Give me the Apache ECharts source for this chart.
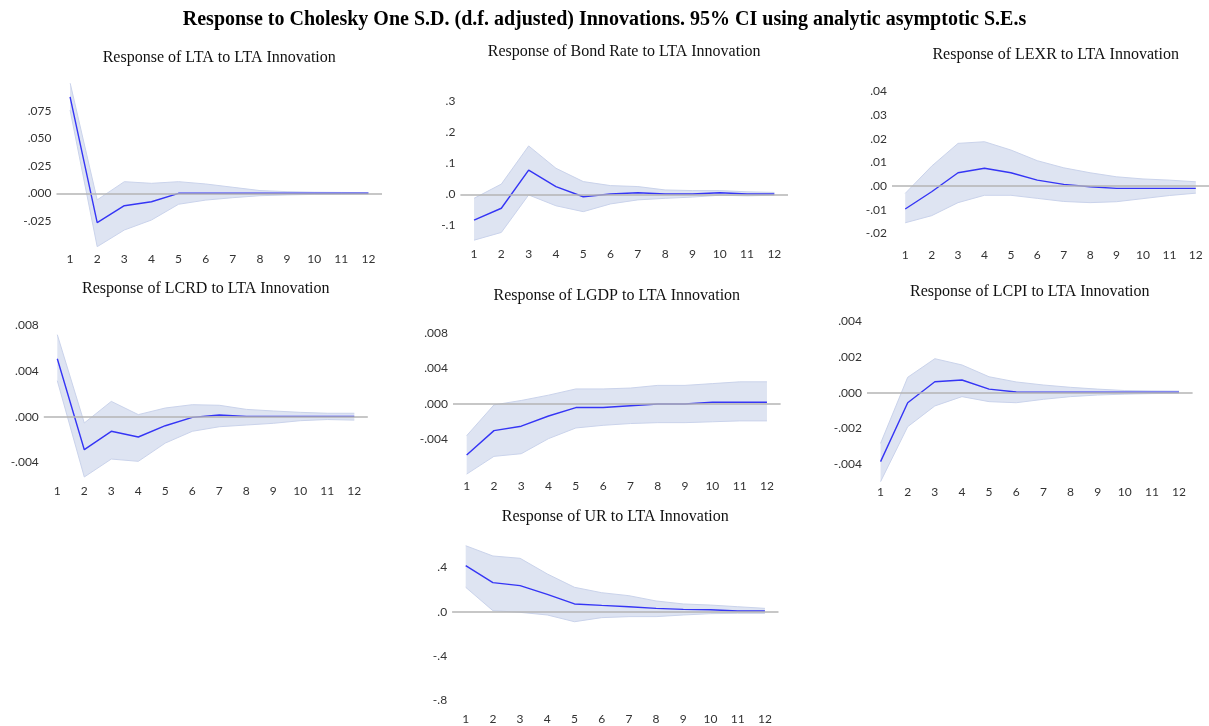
<!DOCTYPE html>
<html>
<head>
<meta charset="utf-8">
<script src="https://cdn.jsdelivr.net/npm/echarts@6/dist/echarts.min.js"></script>
<style>
  html, body { margin: 0; padding: 0; background: #fff; }
  #chart { width: 1209px; height: 726px; }
</style>
</head>
<body>
<div id="chart"></div>
<script>
// periods after the shock
const periods = ['1', '2', '3', '4', '5', '6', '7', '8', '9', '10', '11', '12'];

// LTA
const ltaResp  = [0.088, -0.0268, -0.0113, -0.0077, 0.0000, 0.0000, 0.0000, 0.0000, 0.0000, 0.0000, 0.0000, 0.0000];
const ltaUpper = [0.1009, -0.006, 0.0106, 0.0091, 0.0106, 0.0085, 0.0055, 0.0025, 0.0015, 0.0010, 0.0008, 0.0006];
const ltaLower = [0.076, -0.0487, -0.0335, -0.0244, -0.0100, -0.0062, -0.0040, -0.0022, -0.0015, -0.0010, -0.0008, -0.0006];
const ltaTicks = [-0.025, 0, 0.025, 0.05, 0.075];

// Bond Rate
const bondResp  = [-0.083, -0.045, 0.078, 0.025, -0.008, 0.001, 0.005, 0.001, 0.001, 0.005, 0.001, 0.001];
const bondUpper = [-0.013, 0.033, 0.156, 0.084, 0.041, 0.028, 0.025, 0.014, 0.012, 0.012, 0.008, 0.006];
const bondLower = [-0.148, -0.123, -0.002, -0.037, -0.056, -0.031, -0.018, -0.013, -0.009, -0.003, -0.005, -0.003];
const bondTicks = [-0.1, 0, 0.1, 0.2, 0.3];

// LEXR
const lexrResp  = [-0.0097, -0.0024, 0.0056, 0.0075, 0.0056, 0.0025, 0.0007, -0.0003, -0.0010, -0.0010, -0.0010, -0.0010];
const lexrUpper = [-0.0031, 0.0084, 0.0180, 0.0187, 0.0152, 0.0107, 0.0077, 0.0056, 0.0039, 0.0030, 0.0025, 0.0018];
const lexrLower = [-0.0155, -0.0125, -0.0070, -0.0039, -0.0039, -0.0052, -0.0065, -0.0070, -0.0066, -0.0053, -0.0040, -0.0030];
const lexrTicks = [-0.02, -0.01, 0, 0.01, 0.02, 0.03, 0.04];

// LCRD
const lcrdResp  = [0.00508, -0.00289, -0.00128, -0.00178, -0.00079, -0.00006, 0.00015, 0.00003, 0.00003, 0.00003, 0.00003, 0.00003];
const lcrdUpper = [0.00718, -0.00055, 0.00134, 0.00018, 0.00076, 0.00105, 0.00100, 0.00064, 0.00050, 0.00038, 0.00030, 0.00030];
const lcrdLower = [0.00315, -0.00528, -0.00371, -0.00391, -0.00231, -0.00128, -0.00088, -0.00073, -0.00058, -0.00035, -0.00025, -0.00030];
const lcrdTicks = [-0.004, 0, 0.004, 0.008];

// LGDP
const lgdpResp  = [-0.00575, -0.0030, -0.0025, -0.00135, -0.0004, -0.0004, -0.0002, 0.0000, 0.0000, 0.0002, 0.0002, 0.0002];
const lgdpUpper = [-0.00357, -0.0001, 0.0004, 0.0010, 0.0017, 0.0017, 0.0018, 0.0021, 0.0021, 0.0023, 0.0025, 0.0025];
const lgdpLower = [-0.0079, -0.0059, -0.0056, -0.0039, -0.0027, -0.0024, -0.0022, -0.0021, -0.0021, -0.0020, -0.0019, -0.0019];
const lgdpTicks = [-0.004, 0, 0.004, 0.008];

// LCPI
const lcpiResp  = [-0.00385, -0.00056, 0.00061, 0.00071, 0.00020, 0.00004, 0.00003, 0.00003, 0.00003, 0.00003, 0.00003, 0.00003];
const lcpiUpper = [-0.00283, 0.00086, 0.00190, 0.00155, 0.00089, 0.00060, 0.00043, 0.00030, 0.00020, 0.00012, 0.00010, 0.00009];
const lcpiLower = [-0.00497, -0.00190, -0.00074, -0.00022, -0.00050, -0.00056, -0.00037, -0.00022, -0.00013, -0.00008, -0.00005, -0.00003];
const lcpiTicks = [-0.004, -0.002, 0, 0.002, 0.004];

// UR
const urResp  = [0.417, 0.263, 0.236, 0.157, 0.070, 0.057, 0.045, 0.030, 0.021, 0.018, 0.006, 0.006];
const urUpper = [0.598, 0.505, 0.484, 0.342, 0.221, 0.172, 0.145, 0.097, 0.070, 0.060, 0.045, 0.030];
const urLower = [0.221, 0.009, -0.006, -0.030, -0.091, -0.054, -0.045, -0.045, -0.030, -0.018, -0.015, -0.015];
const urTicks = [-0.8, -0.4, 0, 0.4];

const panels = [
  { title: 'Response of LTA to LTA Innovation', resp: ltaResp, upper: ltaUpper, lower: ltaLower, ticks: ltaTicks, dec: 3 },
  { title: 'Response of Bond Rate to LTA Innovation', resp: bondResp, upper: bondUpper, lower: bondLower, ticks: bondTicks, dec: 1 },
  { title: 'Response of LEXR to LTA Innovation', resp: lexrResp, upper: lexrUpper, lower: lexrLower, ticks: lexrTicks, dec: 2 },
  { title: 'Response of LCRD to LTA Innovation', resp: lcrdResp, upper: lcrdUpper, lower: lcrdLower, ticks: lcrdTicks, dec: 3 },
  { title: 'Response of LGDP to LTA Innovation', resp: lgdpResp, upper: lgdpUpper, lower: lgdpLower, ticks: lgdpTicks, dec: 3 },
  { title: 'Response of LCPI to LTA Innovation', resp: lcpiResp, upper: lcpiUpper, lower: lcpiLower, ticks: lcpiTicks, dec: 3 },
  { title: 'Response of UR to LTA Innovation', resp: urResp, upper: urUpper, lower: urLower, ticks: urTicks, dec: 1 }
];

// layout of each small panel (pixels) and its y range
const layout = [
  { left: 56.5, width: 325.5, top: 83.7, bottom: 248.1, min: -0.05, max: 0.1, step: 0.025, xm: 5, ty: 56 },
  { left: 460.4, width: 327.6, top: 85.8, bottom: 240.8, min: -0.15, max: 0.35, step: 0.05, xm: 7, ty: 50 },
  { left: 892, width: 327.3, top: 79.4, bottom: 245.3, min: -0.025, max: 0.045, step: 0.005, xm: 4, ty: 52.7 },
  { left: 43.8, width: 324, top: 308.2, bottom: 479.5, min: -0.0055, max: 0.0095, step: 0.0005, xm: 6, ty: 286.7 },
  { left: 453, width: 327.6, top: 315.3, bottom: 475, min: -0.008, max: 0.01, step: 0.002, xm: 5, ty: 293.3 },
  { left: 867, width: 325.6, top: 285.3, bottom: 482.2, min: -0.005, max: 0.006, step: 0.001, xm: 4, ty: 289.3 },
  { left: 452.1, width: 326.4, top: 540, bottom: 705.4, min: -0.85, max: 0.65, step: 0.05, xm: 8, ty: 515 }
];

function fmt(v, dec) {
  let s = Math.abs(v).toFixed(dec).replace(/^0/, '');
  return (v < 0 && Math.abs(v) > 1e-12 ? '-' : '') + s;
}

const titles = [{
  text: 'Response to Cholesky One S.D. (d.f. adjusted) Innovations. 95% CI using analytic asymptotic S.E.s',
  left: 604.5, top: 10, textAlign: 'center', padding: 0,
  textStyle: { fontFamily: 'Liberation Serif', fontWeight: 'bold', fontSize: 20, color: '#000' }
}];
const grids = [], xAxes = [], yAxes = [], series = [];

panels.forEach((p, i) => {
  const L = layout[i];
  titles.push({
    text: p.title, left: L.left + L.width / 2, top: L.ty - 6, textAlign: 'center', padding: 0,
    textStyle: { fontFamily: 'Liberation Serif', fontWeight: 'normal', fontSize: 16, color: '#111' }
  });
  grids.push({ left: L.left, top: L.top, width: L.width, height: L.bottom - L.top });
  xAxes.push({
    type: 'category', gridIndex: i, data: periods, boundaryGap: true,
    axisLine: { show: false }, axisTick: { show: false }, splitLine: { show: false },
    axisLabel: { interval: 0, margin: L.xm, fontFamily: 'Lato', fontSize: 12, color: '#333' }
  });
  yAxes.push({
    type: 'value', gridIndex: i, min: L.min, max: L.max, interval: L.step,
    axisLine: { show: false }, axisTick: { show: false }, splitLine: { show: false },
    axisLabel: {
      margin: 5, fontFamily: 'Lato', fontSize: 12, color: '#333',
      formatter: v => p.ticks.some(t => Math.abs(t - v) < L.step * 1e-3) ? fmt(v, p.dec) : ''
    }
  });
  const band = p.upper.map((u, k) => u - p.lower[k]);
  series.push({
    type: 'line', xAxisIndex: i, yAxisIndex: i, data: p.lower, stack: 'ci' + i, stackStrategy: 'all',
    symbol: 'none', silent: true, z: 2,
    lineStyle: { color: '#cad3eb', width: 1 },
    markLine: {
      silent: true, symbol: 'none', label: { show: false },
      lineStyle: { color: '#b4b4b4', width: 1.5, type: 'solid' },
      data: [{ yAxis: 0 }]
    }
  });
  series.push({
    type: 'line', xAxisIndex: i, yAxisIndex: i, data: band, stack: 'ci' + i, stackStrategy: 'all',
    symbol: 'none', silent: true, z: 1,
    lineStyle: { color: '#cad3eb', width: 1 },
    areaStyle: { color: '#dee4f2', opacity: 1 }
  });
  series.push({
    type: 'line', xAxisIndex: i, yAxisIndex: i, data: p.resp,
    symbol: 'none', silent: true, z: 3,
    lineStyle: { color: '#3535f5', width: 1.4 }
  });
});

const chart = echarts.init(document.getElementById('chart'));
chart.setOption({
  backgroundColor: '#fff',
  animation: false,
  title: titles,
  grid: grids,
  xAxis: xAxes,
  yAxis: yAxes,
  series: series
});
</script>
</body>
</html>
